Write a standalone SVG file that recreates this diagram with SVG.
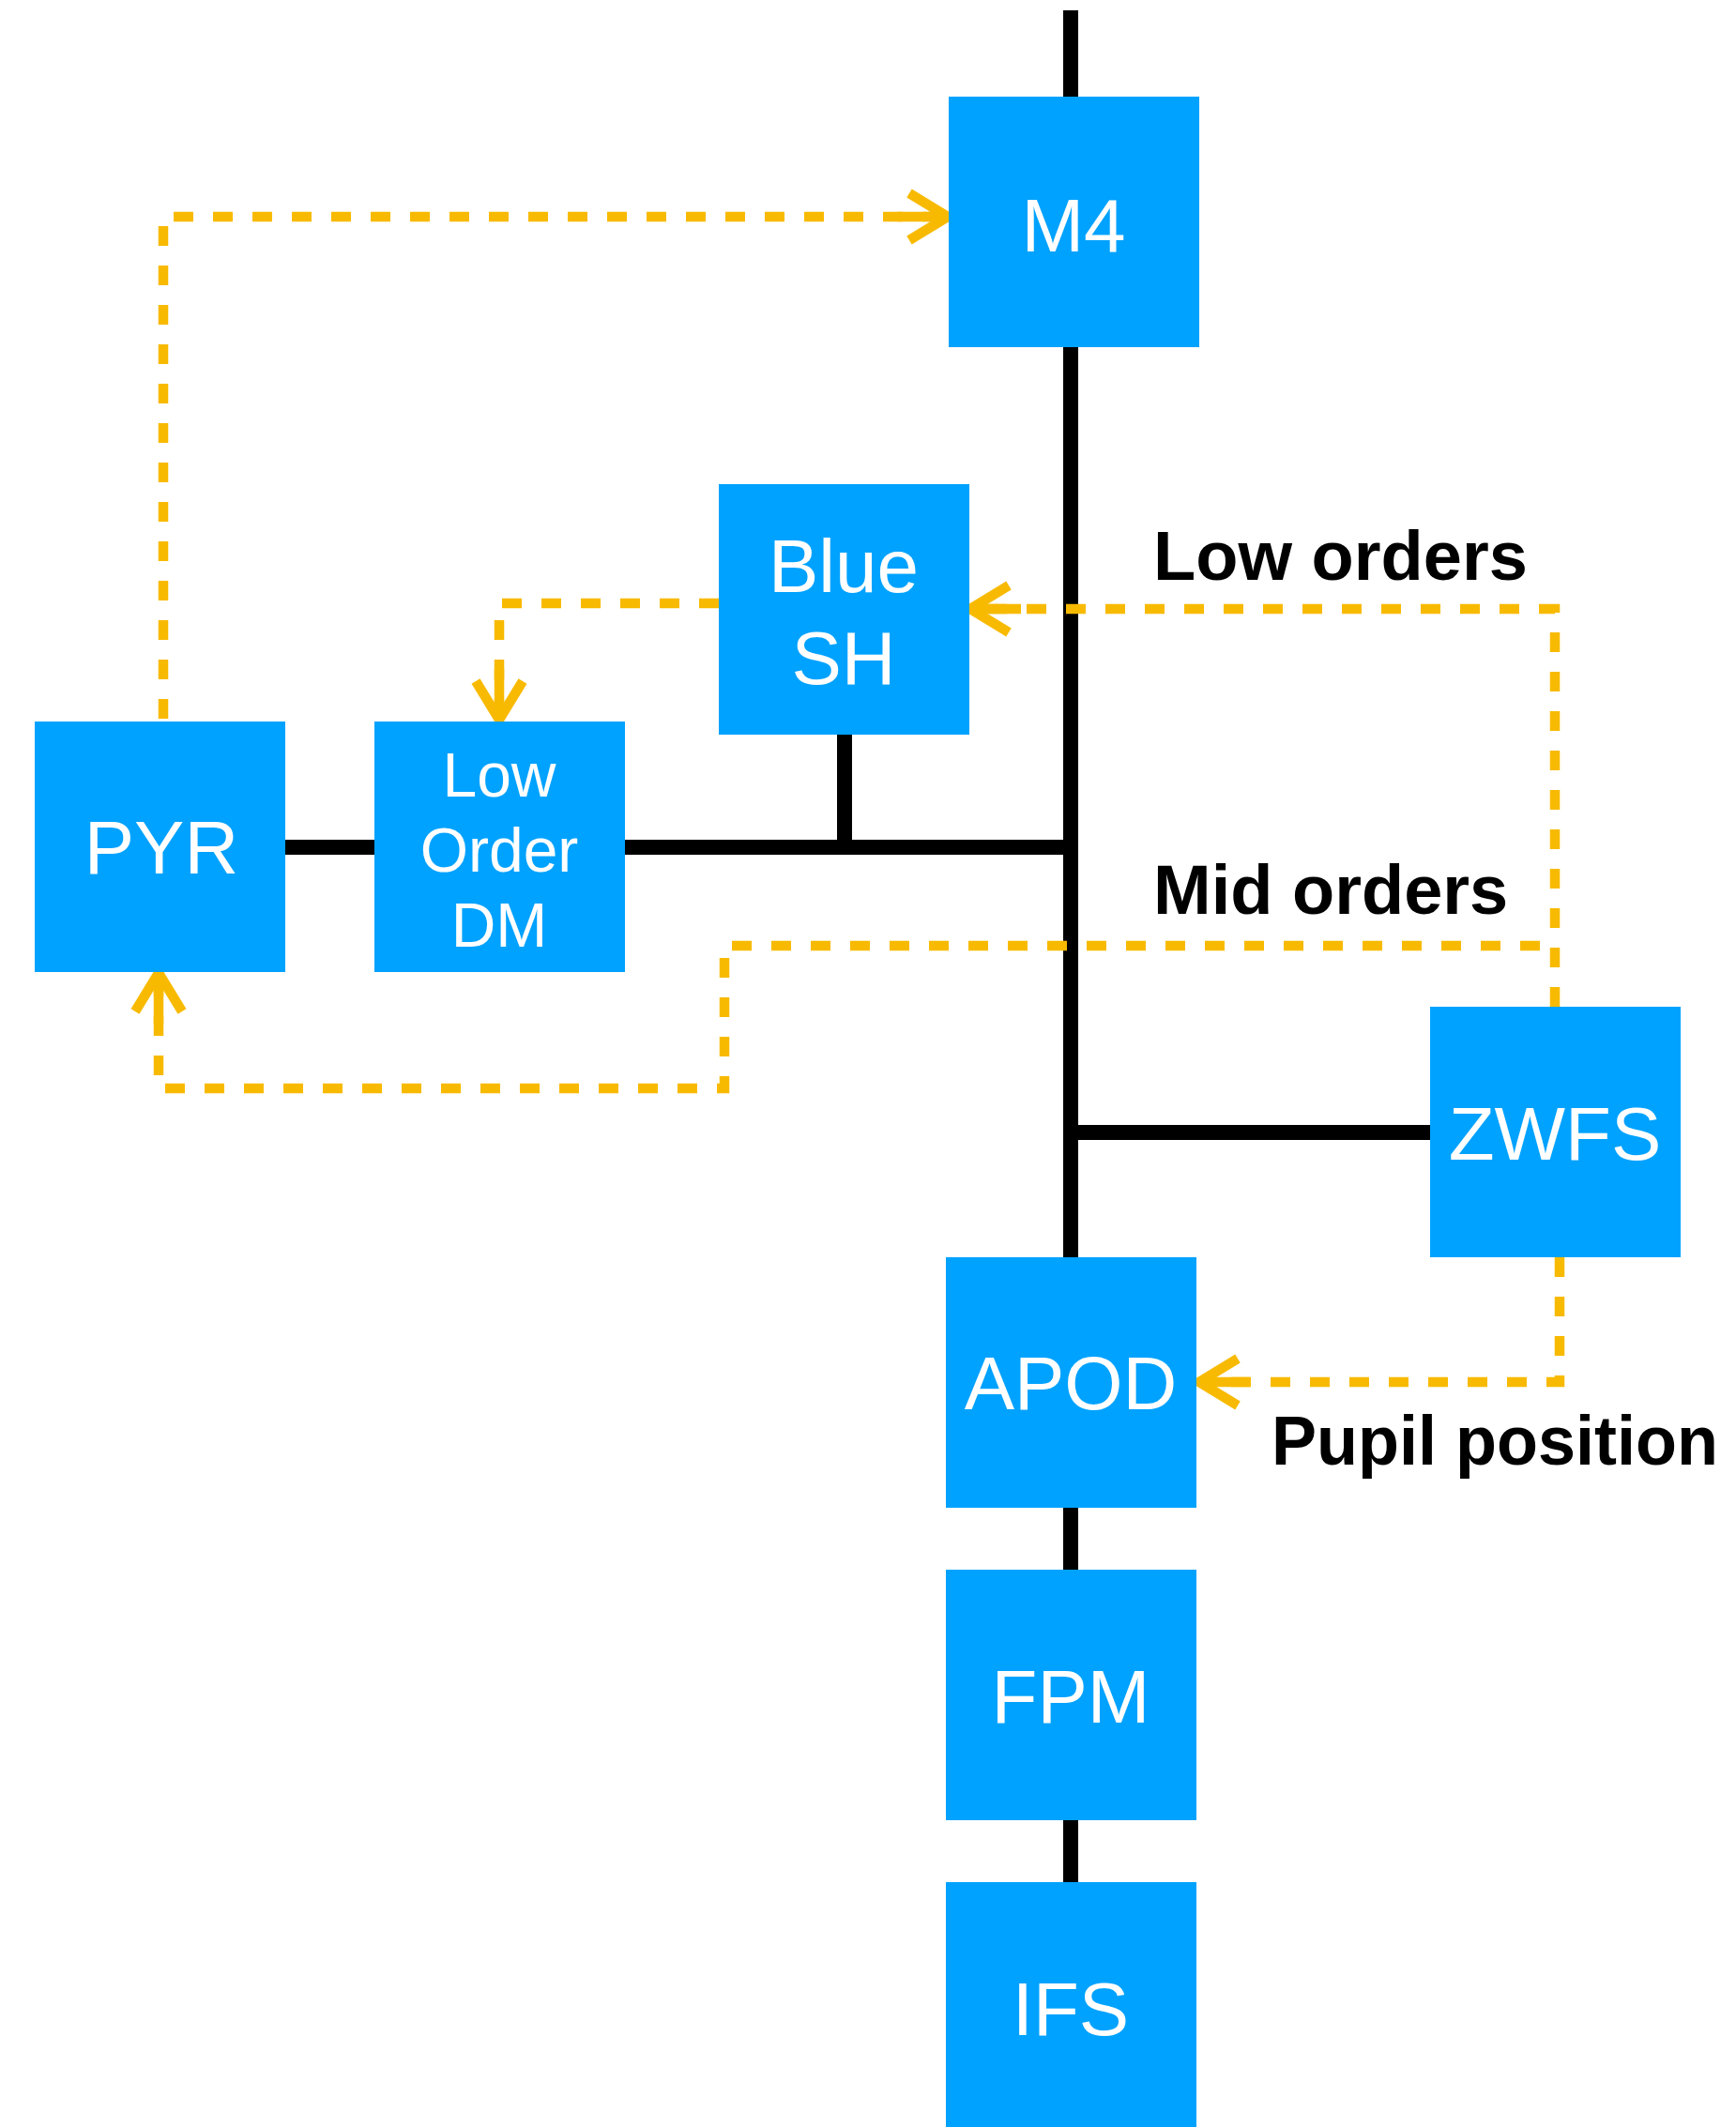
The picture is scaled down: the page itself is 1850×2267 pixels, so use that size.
<svg xmlns="http://www.w3.org/2000/svg" width="1850" height="2267" viewBox="0 0 1850 2267">
<style>
.box{fill:#00A2FF}
.lbl{font-family:"Liberation Sans",Arial,sans-serif;fill:#fff;font-size:80px;text-anchor:middle}
.note{font-family:"Liberation Sans",Arial,sans-serif;font-weight:bold;fill:#000;font-size:74px}
.wire{stroke:#000;stroke-width:16;fill:none}
.ctl{stroke:#F8BA00;stroke-width:10.5;fill:none;stroke-dasharray:21 21}
</style>
<defs>
<marker id="arr" markerUnits="userSpaceOnUse" markerWidth="120" markerHeight="80" viewBox="-60 -40 120 80" refX="0" refY="0" orient="auto" overflow="visible">
<path d="M-55,0 L-2,0" stroke="#F8BA00" stroke-width="10.5" fill="none"/>
<path d="M-42,-25 L-1,0 L-42,25" stroke="#F8BA00" stroke-width="10.5" fill="none" stroke-linejoin="round"/>
</marker>
</defs>
<g id="connectors">
<path class="wire" d="M1141,11 V2006"/>
<path class="wire" d="M304,903 H1141"/>
<path class="wire" d="M900,783 V903"/>
<path class="wire" d="M1141,1207 H1524"/>
<path class="ctl" d="M174,766 V231 H1011" marker-end="url(#arr)"/>
<path class="ctl" d="M766,643 H532 V768" marker-end="url(#arr)"/>
<path class="ctl" d="M1657,1073 V649 H1033" marker-end="url(#arr)"/>
<path class="ctl" d="M1641,1008 H772 V1160 H169 V1036" marker-end="url(#arr)"/>
<path class="ctl" d="M1662,1340 V1473 H1277" marker-end="url(#arr)"/>
</g>
<g id="M4"><rect class="box" x="1011" y="103" width="267" height="267"/><text class="lbl" x="1144" y="268">M4</text></g>
<g id="BlueSH"><rect class="box" x="766" y="516" width="267" height="267"/><text class="lbl" x="899" y="631">Blue</text><text class="lbl" x="899" y="729">SH</text></g>
<g id="PYR"><rect class="box" x="37" y="769" width="267" height="267"/><text class="lbl" x="172" y="931">PYR</text></g>
<g id="LowOrderDM"><rect class="box" x="399" y="769" width="267" height="267"/><text class="lbl" style="font-size:66px" x="532" y="849">Low</text><text class="lbl" style="font-size:66px" x="532" y="929">Order</text><text class="lbl" style="font-size:66px" x="532" y="1009">DM</text></g>
<g id="ZWFS"><rect class="box" x="1524" y="1073" width="267" height="267"/><text class="lbl" x="1657" y="1236">ZWFS</text></g>
<g id="APOD"><rect class="box" x="1008" y="1340" width="267" height="267"/><text class="lbl" x="1141" y="1502">APOD</text></g>
<g id="FPM"><rect class="box" x="1008" y="1673" width="267" height="267"/><text class="lbl" x="1141" y="1836">FPM</text></g>
<g id="IFS"><rect class="box" x="1008" y="2006" width="267" height="267"/><text class="lbl" x="1141" y="2169">IFS</text></g>
<g id="labels">
<text class="note" x="1229" y="618">Low orders</text>
<text class="note" x="1229" y="974">Mid orders</text>
<text class="note" x="1355" y="1561" textLength="476" lengthAdjust="spacingAndGlyphs">Pupil position</text>
</g>
</svg>
